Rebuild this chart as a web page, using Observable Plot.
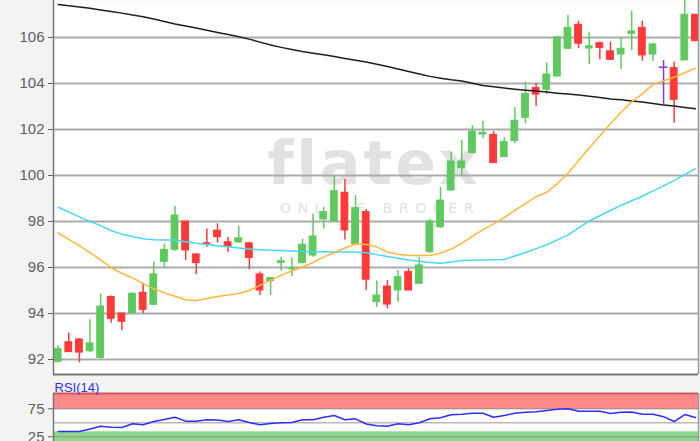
<!DOCTYPE html>
<html>
<head>
<meta charset="utf-8">
<script src="https://cdn.jsdelivr.net/npm/d3@7"></script>
<script src="https://cdn.jsdelivr.net/npm/@observablehq/plot@0.6"></script>
<style>
  html, body { margin: 0; padding: 0; background: #f3f3f3; }
  #chart { width: 700px; height: 441px; overflow: hidden; }
  #chart svg { display: block; }
</style>
</head>
<body>
<div id="chart"></div>
<script>
// ---- data (61 daily candles) ----
const open  = [91.9, 92.75, 92.87, 92.36, 92.07, 94.72, 94.0, 94.01, 94.9, 94.38, 96.25, 96.77, 98.0, 96.57, 97.05, 97.6, 97.1, 97.09, 97.05, 95.7, 95.41, 96.2, 95.92, 96.19, 96.52, 98.09, 98.0, 99.25, 97.0, 98.41, 94.49, 95.17, 95.0, 95.8, 95.29, 96.67, 97.75, 99.35, 100.32, 100.97, 101.78, 101.77, 100.8, 101.5, 102.51, 103.8, 103.73, 104.3, 105.51, 106.55, 105.52, 105.75, 105.4, 105.26, 106.16, 106.42, 105.26, 104.71, 104.67, 105.0, 106.99];
const close = [92.45, 92.32, 92.3, 92.7, 94.3, 93.77, 93.64, 94.86, 94.16, 95.7, 96.77, 98.26, 96.74, 96.19, 97.0, 97.32, 96.9, 97.27, 96.41, 95.0, 95.54, 96.27, 95.97, 96.99, 97.35, 98.41, 99.32, 97.61, 98.58, 95.47, 94.78, 94.39, 95.58, 95.0, 96.09, 98.0, 98.91, 100.61, 100.61, 101.91, 101.86, 100.54, 101.45, 102.38, 103.55, 103.52, 104.39, 106.01, 106.42, 105.73, 105.62, 105.55, 105.03, 105.51, 106.26, 105.22, 105.7, 104.71, 103.29, 106.99, 105.84];
const high  = [92.6, 93.15, 92.9, 93.73, 94.85, 94.76, 94.02, 94.9, 95.32, 96.23, 97.03, 98.65, 98.0, 96.6, 97.67, 97.9, 97.3, 97.78, 97.1, 95.8, 95.56, 96.45, 96.42, 97.22, 98.33, 98.62, 100.0, 99.83, 99.13, 98.52, 95.41, 95.43, 95.87, 95.94, 96.42, 98.1, 99.49, 101.01, 101.52, 102.17, 102.36, 101.91, 101.64, 102.95, 104.06, 104.0, 104.9, 106.05, 106.96, 106.71, 106.23, 105.8, 105.8, 105.99, 107.14, 106.71, 105.75, 105.0, 104.93, 107.8, 107.0];
const low   = [91.85, 92.3, 91.85, 92.3, 92.0, 93.58, 93.26, 94.0, 94.0, 94.35, 96.0, 96.7, 96.3, 95.68, 96.88, 97.06, 96.64, 97.05, 95.9, 94.78, 94.78, 95.84, 95.6, 96.15, 96.45, 97.68, 98.0, 97.2, 97.0, 95.0, 94.27, 94.2, 94.49, 95.0, 95.29, 96.6, 97.7, 99.3, 100.0, 100.95, 101.6, 100.54, 100.8, 101.38, 102.25, 103.0, 103.52, 104.3, 105.5, 105.51, 104.83, 105.03, 105.03, 104.6, 105.43, 104.97, 104.97, 103.09, 102.27, 105.0, 105.84];

// moving averages (orange = short, cyan = medium, black = long)
const maShort = [97.5, 97.22, 96.95, 96.65, 96.33, 95.99, 95.75, 95.55, 95.3, 95.07, 94.9, 94.75, 94.6, 94.57, 94.65, 94.74, 94.8, 94.87, 95.0, 95.22, 95.45, 95.67, 95.85, 96.02, 96.22, 96.45, 96.65, 96.85, 97.03, 97.0, 96.9, 96.67, 96.58, 96.52, 96.52, 96.52, 96.63, 96.8, 97.05, 97.35, 97.65, 97.9, 98.17, 98.48, 98.78, 99.08, 99.27, 99.65, 100.1, 100.65, 101.2, 101.72, 102.25, 102.75, 103.2, 103.55, 103.95, 104.12, 104.27, 104.47, 104.67];
const maMid   = [98.62, 98.42, 98.2, 98.0, 97.82, 97.6, 97.45, 97.35, 97.25, 97.21, 97.2, 97.2, 97.12, 97.05, 97.0, 96.95, 96.9, 96.85, 96.8, 96.77, 96.75, 96.74, 96.72, 96.7, 96.69, 96.68, 96.67, 96.67, 96.67, 96.64, 96.56, 96.48, 96.4, 96.33, 96.27, 96.22, 96.19, 96.24, 96.3, 96.31, 96.33, 96.34, 96.35, 96.5, 96.65, 96.82, 96.99, 97.2, 97.41, 97.72, 98.02, 98.25, 98.48, 98.7, 98.9, 99.1, 99.32, 99.55, 99.78, 100.05, 100.29];
const maLong  = [107.43, 107.38, 107.33, 107.27, 107.2, 107.13, 107.06, 106.98, 106.9, 106.8, 106.7, 106.59, 106.5, 106.41, 106.32, 106.22, 106.13, 106.03, 105.93, 105.8, 105.67, 105.57, 105.48, 105.39, 105.32, 105.25, 105.17, 105.09, 105.01, 104.93, 104.84, 104.74, 104.63, 104.52, 104.41, 104.31, 104.23, 104.16, 104.11, 104.01, 103.91, 103.86, 103.8, 103.75, 103.71, 103.67, 103.63, 103.58, 103.54, 103.5, 103.45, 103.39, 103.33, 103.29, 103.24, 103.2, 103.13, 103.07, 103.02, 102.96, 102.9];

// RSI(14)
const rsi = [34.5, 34.5, 34.5, 39, 43.8, 42.1, 41.6, 48.2, 46.6, 52.3, 55.9, 60, 52.9, 52.7, 55.4, 54.8, 52.3, 55.4, 50.5, 46.6, 48.8, 50, 50.5, 55.4, 55.4, 60, 63, 55.4, 57.1, 47.9, 44.6, 43.9, 48.2, 46.4, 50, 57.1, 58.9, 64.5, 65.4, 67.1, 67.1, 60, 63, 67.1, 68.9, 69.6, 71.8, 74.3, 75.2, 70.7, 70.7, 70.5, 66.6, 68.9, 69.3, 65.4, 65.4, 60.9, 52.3, 64.8, 59.5];

// tick labels
const priceTicks = [92, 94, 96, 98, 100, 102, 104, 106];
const rsiTicks = [25, 75];
const rsiGrid = [25, 50, 75];
const rsiBands = [{kind: "over", lo: 73.8, hi: 102.3}, {kind: "under", lo: 16.6, hi: 33.9}];
const rsiLabel = "RSI(14)";
const watermark = ["flatex", "ONLINE BROKER"];

// ---- build tables ----
const candles = open.map((o, i) => ({i, open: o, close: close[i], high: high[i], low: low[i]}));
const GREEN = "#5fc95f", RED = "#ff3838", DOJI = "#7a3fe0";
const colorOf = d => d.close > d.open ? GREEN : d.close < d.open ? RED : DOJI;
const bodies = candles.filter(d => d.close !== d.open);
const dojis = candles.filter(d => d.close === d.open);
const lineRows = arr => arr.map((v, i) => ({i, v}));

const xDom = [-0.44, 60.29];
const priceDom = [91.3478, 107.6087];
const rsiDom = [16.6, 102.3];
const HW = 0.32;
const font = "'Liberation Sans', Arial, sans-serif";

const main = Plot.plot({
  width: 700, height: 376,
  marginLeft: 53, marginRight: 2, marginTop: 0, marginBottom: 2,
  style: {background: "transparent", fontFamily: font, fontSize: "15px", color: "#5f5f5f"},
  x: {domain: xDom, axis: null},
  y: {domain: priceDom, ticks: priceTicks, tickSize: 5, tickPadding: 4, label: null, tickFormat: d => String(d)},
  marks: [
    Plot.frame({fill: "white", stroke: "none"}),
    Plot.text([watermark[0]], {frameAnchor: "middle", text: d => d, dy: -23, dx: -2, fontSize: 60, fontWeight: "bold", fill: "#e2e2e2", fontFamily: "DejaVu Sans"}),
    Plot.text([watermark[1]], {frameAnchor: "middle", text: d => d, dy: 21, dx: 4, fontSize: 14, fill: "#e2e2e2", fontFamily: "DejaVu Sans"}),
    Plot.ruleY(priceTicks, {stroke: "#ababab", strokeWidth: 2}),
    Plot.ruleX(candles, {x: "i", y1: "low", y2: "high", stroke: colorOf, strokeWidth: 1.5, clip: true}),
    Plot.rect(bodies, {x1: d => d.i - HW, x2: d => d.i + HW, y1: "open", y2: "close", fill: colorOf, stroke: colorOf, strokeWidth: 1, clip: true}),
    Plot.ruleY(dojis, {y: "open", x1: d => d.i - HW - 0.1, x2: d => d.i + HW + 0.1, stroke: DOJI, strokeWidth: 1.5}),
    Plot.line(lineRows(maLong), {x: "i", y: "v", stroke: "#1e1e1e", strokeWidth: 1.5, clip: true}),
    Plot.line(lineRows(maMid), {x: "i", y: "v", stroke: "#45d8f5", strokeWidth: 1.5, clip: true}),
    Plot.line(lineRows(maShort), {x: "i", y: "v", stroke: "#ffb73a", strokeWidth: 1.5, clip: true}),
    Plot.ruleX([xDom[0]], {stroke: "#777", strokeWidth: 1.5}),
    Plot.ruleX([xDom[1]], {stroke: "#999", strokeWidth: 1.5}),
    Plot.ruleY([priceDom[0]], {stroke: "#777", strokeWidth: 2})
  ]
});

const rsiPlot = Plot.plot({
  width: 700, height: 65,
  marginLeft: 53, marginRight: 2, marginTop: 17, marginBottom: 0,
  style: {background: "transparent", fontFamily: font, fontSize: "15px", color: "#5f5f5f", overflow: "hidden"},
  x: {domain: xDom, axis: null},
  y: {domain: rsiDom, ticks: rsiTicks, tickSize: 5, tickPadding: 4, label: null},
  marks: [
    Plot.frame({fill: "white", stroke: "none"}),
    Plot.rect(rsiBands, {x1: () => xDom[0], x2: () => xDom[1], y1: "lo", y2: "hi", fill: d => d.kind === "over" ? "#ff8a8a" : "#8cd98c"}),
    Plot.ruleY(rsiGrid, {stroke: "#8a8a8a", strokeOpacity: 0.6, strokeWidth: 1.5}),
    Plot.ruleY([rsiDom[1]], {stroke: "#d05a5a", strokeWidth: 2}),
    Plot.line(lineRows(rsi), {x: "i", y: "v", stroke: "#2e2eff", strokeWidth: 1.5}),
    Plot.ruleX([xDom[0]], {stroke: "#777", strokeWidth: 1.5}),
    Plot.ruleX([xDom[1]], {stroke: "#999", strokeWidth: 1.5}),
    Plot.text([rsiLabel], {frameAnchor: "top-left", text: d => d, textAnchor: "start", lineAnchor: "bottom", dx: 1, dy: -2, fontSize: 13, fill: "#2e2eff"})
  ]
});

const chart = document.getElementById("chart");
chart.appendChild(main);
chart.appendChild(rsiPlot);

// spaced watermark lettering
main.querySelectorAll("text").forEach(t => {
  if (t.textContent === watermark[1]) t.style.letterSpacing = "6.5px";
  if (t.textContent === watermark[0]) t.style.letterSpacing = "3px";
});
</script>
</body>
</html>
